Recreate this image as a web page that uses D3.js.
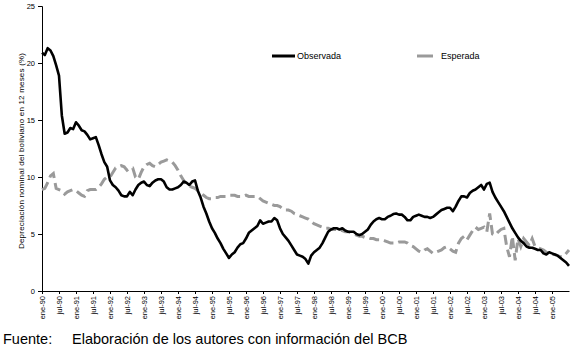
<!DOCTYPE html>
<html><head><meta charset="utf-8">
<script src="https://cdn.jsdelivr.net/npm/d3@7"></script>
<style>body{margin:0;background:#fff}svg{display:block}text{font-family:"Liberation Sans",Arial,sans-serif}</style>
</head><body><svg id="c" width="575" height="346"></svg>
<script>
// Monthly data, ene-90 .. jul-05
const startYear = 1990;
const observada = [20.9,20.7,21.3,21.1,20.6,19.8,18.9,15.4,13.8,13.9,14.3,14.2,
14.8,14.5,14.1,14.0,13.7,13.3,13.4,13.5,12.8,12.0,11.3,10.9,
9.7,9.3,9.1,8.8,8.4,8.3,8.3,8.7,8.4,8.9,9.3,9.5,
9.6,9.3,9.2,9.5,9.7,9.8,9.8,9.6,9.1,8.9,8.9,9.0,
9.1,9.3,9.6,9.5,9.3,9.6,9.7,8.8,8.2,7.4,6.8,6.1,
5.5,5.1,4.6,4.2,3.7,3.3,2.9,3.2,3.4,3.8,4.1,4.2,
4.6,5.1,5.3,5.5,5.7,6.2,5.9,6.0,6.1,6.1,6.4,6.2,
5.5,5.0,4.7,4.4,4.0,3.6,3.2,3.1,3.0,2.8,2.4,3.1,
3.4,3.6,3.8,4.2,4.7,5.2,5.4,5.5,5.5,5.4,5.5,5.3,
5.2,5.2,5.2,5.0,4.9,5.0,5.2,5.4,5.8,6.1,6.3,6.4,
6.3,6.3,6.5,6.6,6.75,6.8,6.7,6.7,6.5,6.2,6.2,6.5,
6.6,6.7,6.6,6.5,6.5,6.4,6.5,6.7,6.9,7.1,7.2,7.3,
7.3,7.0,7.4,7.9,8.3,8.3,8.2,8.6,8.8,8.9,9.1,9.3,
8.9,9.4,9.5,8.7,8.2,7.8,7.4,7.0,6.5,6.0,5.5,5.1,
4.7,4.4,4.2,3.9,3.8,3.8,3.7,3.6,3.6,3.3,3.2,3.4,
3.3,3.2,3.1,2.9,2.7,2.5,2.2];
const esperada = [8.9,9.0,9.5,10.1,10.3,9.0,8.9,8.8,8.5,8.7,8.8,8.9,
8.8,8.6,8.4,8.3,8.8,8.9,8.9,8.9,9.1,9.4,9.8,10.0,
10.0,10.4,10.8,10.9,11.0,10.9,10.6,10.8,10.8,10.0,9.8,10.4,
10.9,11.1,11.2,11.0,10.9,11.1,11.3,11.4,11.5,11.4,11.3,11.0,
10.6,10.1,9.7,9.4,9.2,9.1,9.0,8.8,8.6,8.4,8.2,8.1,
8.1,8.2,8.2,8.3,8.3,8.3,8.4,8.4,8.4,8.3,8.3,8.3,
8.4,8.3,8.3,8.3,8.3,8.1,7.9,7.8,7.7,7.6,7.5,7.5,
7.4,7.2,7.1,7.1,7.0,6.8,6.7,6.6,6.5,6.4,6.3,6.1,
5.9,5.8,5.7,5.6,5.5,5.5,5.4,5.4,5.4,5.3,5.3,5.2,
5.2,5.1,5.0,4.9,4.8,4.8,4.7,4.7,4.6,4.6,4.5,4.5,
4.5,4.4,4.3,4.2,4.2,4.2,4.3,4.3,4.3,4.2,4.0,3.9,
3.7,3.5,3.4,3.6,3.7,3.5,3.3,3.4,3.5,3.6,3.8,3.9,
3.7,3.5,3.4,4.2,4.6,4.8,4.5,4.9,5.3,5.6,5.4,5.5,
5.6,5.2,6.8,5.0,4.9,5.2,5.4,5.5,3.9,3.0,4.8,2.7,
4.6,3.9,4.6,4.3,4.0,4.6,3.9,3.8,3.7,3.6,3.4,3.3,
3.2,3.2,3.1,3.0,3.0,3.3,3.6];
const monthNames = ["ene","jul"];
const yTicks = [0,5,10,15,20,25];
const seriesNames = ["Observada","Esperada"];
const yTitle = "Depreciación nominal del boliviano en 12 meses (%)";
const footLabel = "Fuente:";
const footText = "Elaboración de los autores con información del BCB";

const tickMonths = d3.range(0, 181, 6);
const tickLabel = m => monthNames[(m % 12) / 6] + "-" + String((startYear + Math.floor(m / 12)) % 100).padStart(2, "0");

const svg = d3.select("#c");
const x = d3.scaleLinear().domain([0, 186]).range([42, 569]);
const y = d3.scaleLinear().domain([0, 25]).range([291, 6]);

// axes
const yAxis = d3.axisLeft(y).tickValues(yTicks).tickSize(4).tickPadding(3);
const gy = svg.append("g").attr("transform", "translate(42,0)").call(yAxis);
gy.select(".domain").attr("stroke", "#000");
gy.selectAll("text").attr("font-size", 7.5).attr("fill", "#000");

const xAxis = d3.axisBottom(x).tickValues(tickMonths).tickFormat(tickLabel).tickSize(3).tickSizeOuter(0);
const gx = svg.append("g").attr("transform", "translate(0,291)").call(xAxis);
gx.select(".domain").attr("stroke", "#000");
gx.selectAll("text").attr("font-size", 7.5).attr("fill", "#000")
  .attr("transform", "rotate(-90)").attr("text-anchor", "end")
  .attr("x", -5).attr("y", 0).attr("dy", "0.32em");

// lines
const line = d3.line().x((d, i) => x(i)).y(d => y(d)).curve(d3.curveLinear);
svg.append("path").datum(esperada).attr("d", line).attr("fill", "none")
  .attr("stroke", "#9a9a9a").attr("stroke-width", 3).attr("stroke-dasharray", "10,5");
svg.append("path").datum(observada).attr("d", line).attr("fill", "none")
  .attr("stroke", "#000").attr("stroke-width", 2.6).attr("stroke-linejoin", "round");

// legend
svg.append("line").attr("x1", 272).attr("x2", 295).attr("y1", 56).attr("y2", 56).attr("stroke", "#000").attr("stroke-width", 3);
svg.append("text").attr("x", 297).attr("y", 59).attr("font-size", 9).text(seriesNames[0]);
svg.append("line").attr("x1", 417).attr("x2", 433).attr("y1", 56).attr("y2", 56).attr("stroke", "#9a9a9a").attr("stroke-width", 3);
svg.append("text").attr("x", 441).attr("y", 59).attr("font-size", 9).text(seriesNames[1]);

// y title
svg.append("text").attr("transform", "translate(24,151) rotate(-90)").attr("text-anchor", "middle")
  .attr("font-size", 8).attr("textLength", 196).attr("lengthAdjust", "spacing").text(yTitle);

// footer
svg.append("text").attr("x", 3).attr("y", 344).attr("font-size", 14.5).text(footLabel);
svg.append("text").attr("x", 72).attr("y", 344).attr("font-size", 14.5).text(footText);
</script></body></html>
